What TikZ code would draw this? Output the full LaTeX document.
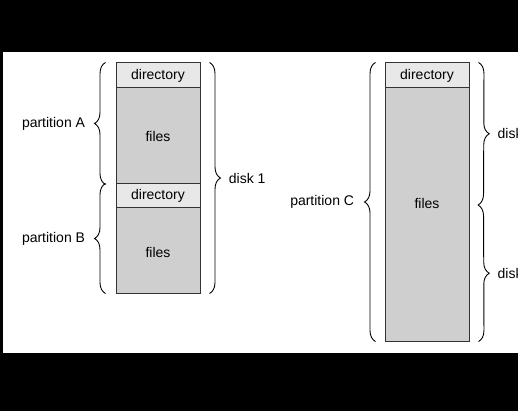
\documentclass[tikz,border=0pt]{standalone}
\usepackage{fontspec}
\setmainfont{Liberation Sans}
\usepackage{tikz}
\usetikzlibrary{decorations.pathreplacing}
\newcommand{\dirfill}{black!9}
\newcommand{\filesfill}{black!19}
\newcommand{\boxline}{black!80}
\newcommand{\amp}{11pt}

\begin{document}
\begin{tikzpicture}[x=1pt, y=-1pt,
  every node/.style={font=\fontsize{14}{16}\selectfont},
  part/.style={draw=\boxline, line width=1pt, inner sep=0pt, minimum width=84pt},
  dirpart/.style={part, fill=\dirfill, minimum height=25pt},
  filespart/.style={part, fill=\filesfill},
  brc/.style={decorate, decoration={brace, amplitude=\amp}, line width=0.9pt},
  lbl/.style={inner sep=0pt}]
\useasboundingbox (0,0) rectangle (518,411);
\fill[black] (0,0) rectangle (518,411);
\fill[white] (3,52) rectangle (518,353);
%disk 1
\node[dirpart] (dirA) at (158, 75.5) {directory};
\node[filespart, minimum height=96pt] (filesA) at (158, 136) {files};
\node[dirpart, minimum height=24pt] (dirB) at (158, 196) {directory};
\node[filespart, minimum height=85pt,
  label={[lbl, yshift=-1.5pt]center:files}] (filesB) at (158, 250.5) {};
%disk 2 and 3
\node[dirpart] (dirC) at (427, 75.5) {directory};
\node[filespart, minimum height=253pt,
  label={[lbl, yshift=11pt]center:files}] (filesC) at (427, 214.5) {};
\coordinate (split) at (469, 205);
%braces
\draw[brc] ([xshift=-10pt]filesA.south west) -- ([xshift=-10pt]dirA.north west)
  node[lbl, midway, left=20pt] {partition A};
\draw[brc] ([xshift=-10pt]filesB.south west) -- ([xshift=-10pt]dirB.north west)
  node[lbl, midway, left=20pt] {partition B};
\draw[brc] ([xshift=9pt]dirA.north east) -- ([xshift=9pt]filesB.south east)
  node[lbl, midway, right=19pt] {disk 1};
\draw[brc] ([xshift=-9pt]filesC.south west) -- ([xshift=-9pt]dirC.north west)
  node[lbl, midway, left=21pt] {partition C};
\draw[brc] ([xshift=9pt]dirC.north east) -- ([xshift=9pt]split)
  node[lbl, midway, right=19pt] {disk 2};
\draw[brc] ([xshift=9pt]split) -- ([xshift=9pt]filesC.south east)
  node[lbl, midway, right=19pt] {disk 3};
\end{tikzpicture}
\end{document}
